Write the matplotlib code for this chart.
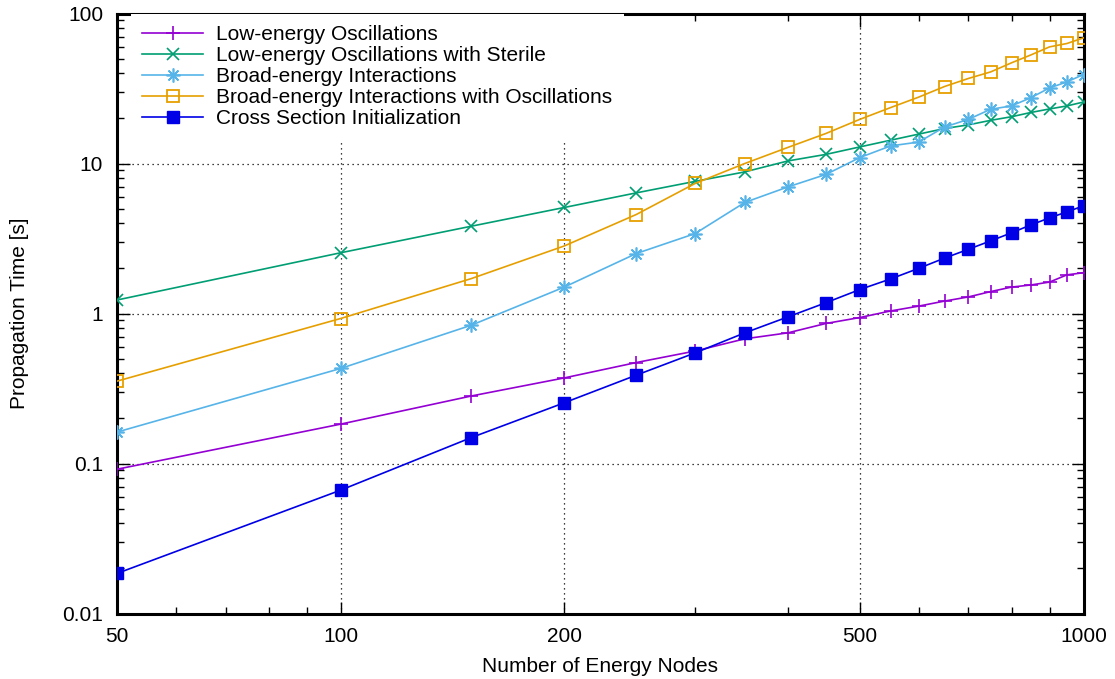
import matplotlib
matplotlib.use("Agg")
import matplotlib.pyplot as plt
from matplotlib.ticker import FixedLocator, FixedFormatter, NullFormatter

plt.rcParams['font.family'] = ['Liberation Sans', 'DejaVu Sans']

nodes = [50, 100, 150, 200, 250, 300, 350, 400, 450, 500,
         550, 600, 650, 700, 750, 800, 850, 900, 950, 1000]

low_osc = [0.0916, 0.183, 0.282, 0.372, 0.471, 0.562, 0.678, 0.743, 0.858, 0.94,
           1.04, 1.12, 1.21, 1.29, 1.40, 1.50, 1.55, 1.62, 1.81, 1.87]
low_osc_sterile = [1.23, 2.54, 3.82, 5.09, 6.37, 7.6, 8.79, 10.4, 11.5, 12.9,
                   14.3, 15.7, 17.1, 18.1, 19.4, 20.5, 21.9, 23.1, 24.2, 25.7]
broad_int = [0.162, 0.43, 0.836, 1.50, 2.51, 3.41, 5.5, 6.98, 8.45, 10.96,
             13.1, 13.9, 17.5, 19.7, 23.0, 24.2, 27.5, 31.9, 35.0, 39.2]
broad_int_osc = [0.354, 0.926, 1.71, 2.82, 4.57, 7.36, 10.0, 12.8, 15.85, 19.7,
                 23.6, 27.7, 32.6, 36.9, 40.8, 46.9, 53.0, 59.9, 63.1, 68.8]
xs_init = [0.0185, 0.0664, 0.149, 0.254, 0.388, 0.546, 0.743, 0.949, 1.18, 1.445,
           1.70, 2.0, 2.34, 2.68, 3.05, 3.45, 3.90, 4.34, 4.76, 5.22]

labels = ["Low-energy Oscillations",
          "Low-energy Oscillations with Sterile",
          "Broad-energy Interactions",
          "Broad-energy Interactions with Oscillations",
          "Cross Section Initialization"]

x_major = [50, 100, 200, 500, 1000]
x_major_labels = ["50", "100", "200", "500", "1000"]
x_minor = [60, 70, 80, 90, 300, 400, 600, 700, 800, 900]
y_major = [0.01, 0.1, 1, 10, 100]
y_major_labels = ["0.01", "0.1", "1", "10", "100"]

fig = plt.figure(figsize=(11.15, 6.79), dpi=100)
ax = fig.add_axes([117/1115, 1-613.5/679, (1083.5-117)/1115, (613.5-13.5)/679])
ax.set_xscale('log')
ax.set_yscale('log')
ax.set_xlim(50, 1000)
ax.set_ylim(0.01, 100)

lw = 1.2
ax.plot(nodes, low_osc, color='#9400d3', lw=lw, marker='+', ms=9.5, mew=1.2, label=labels[0], zorder=3)
ax.plot(nodes, low_osc_sterile, color='#009e73', lw=lw, marker='x', ms=8, mew=1.2, label=labels[1], zorder=3)
ax.plot(nodes, broad_int, color='#56b4e9', lw=lw, marker=(8, 2, 0), ms=10, mew=1.2, label=labels[2], zorder=3)
ax.plot(nodes, broad_int_osc, color='#e69f00', lw=lw, marker='s', ms=8, mew=1.3, mfc='none', label=labels[3], zorder=3)
ax.plot(nodes, xs_init, color='#0000e6', lw=lw, marker='s', ms=8, mew=1.0, label=labels[4], zorder=3)

ax.xaxis.set_major_locator(FixedLocator(x_major))
ax.xaxis.set_major_formatter(FixedFormatter(x_major_labels))
ax.xaxis.set_minor_locator(FixedLocator(x_minor))
ax.xaxis.set_minor_formatter(NullFormatter())
ax.yaxis.set_major_locator(FixedLocator(y_major))
ax.yaxis.set_major_formatter(FixedFormatter(y_major_labels))

ax.tick_params(which='both', direction='in', top=True, right=True, labelsize=15, width=1.0)
ax.tick_params(which='major', length=9)
ax.tick_params(which='minor', length=5)
ax.tick_params(axis='y', which='major', pad=10)
ax.tick_params(axis='x', which='major', pad=10)

ax.grid(True, which='major', color='black', linestyle=(0, (1, 3)), linewidth=0.9, zorder=1)
for s in ax.spines.values():
    s.set_linewidth(2.2)

ax.set_xlabel("Number of Energy Nodes", fontsize=15, labelpad=8)
ax.set_ylabel("Propagation Time [s]", fontsize=15, labelpad=24)

leg = ax.legend(loc='upper left', bbox_to_anchor=(0.014, 1.0), borderaxespad=0,
                fontsize=15, frameon=True, facecolor='white', edgecolor='none',
                framealpha=1.0, fancybox=False, handlelength=2.95, handletextpad=0.6,
                labelspacing=0.1, borderpad=0.55)
leg.set_zorder(5)

fig.savefig("out.png", dpi=100)
